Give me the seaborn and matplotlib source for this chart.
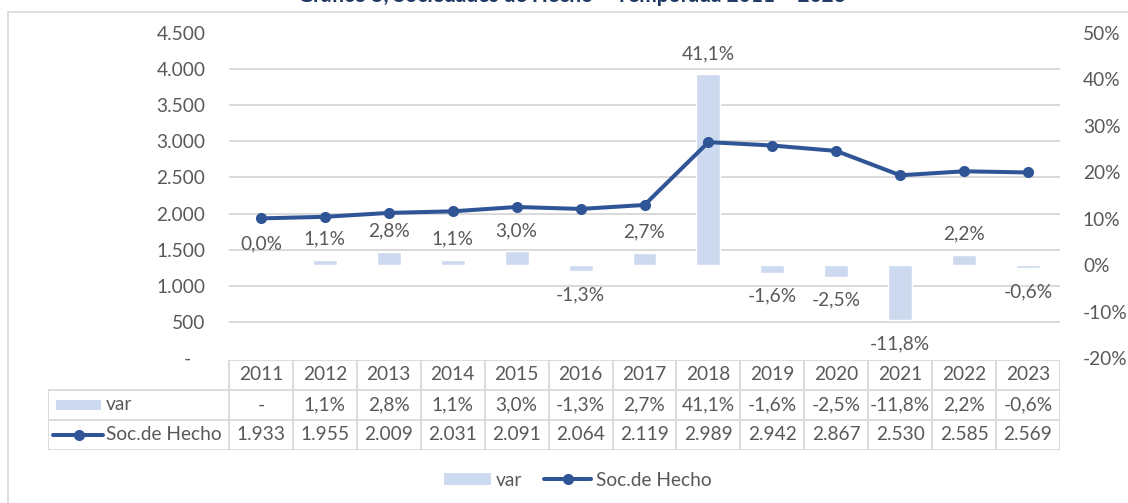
import numpy as np
import pandas as pd
import matplotlib
matplotlib.use("Agg")
import matplotlib.pyplot as plt
from matplotlib.patches import Patch, Rectangle
from matplotlib.lines import Line2D
import seaborn as sns

sns.set_style("white")
plt.rcParams['font.family'] = ['Lato', 'DejaVu Sans']

# datos
years = ['2011', '2012', '2013', '2014', '2015', '2016', '2017',
         '2018', '2019', '2020', '2021', '2022', '2023']
soc_hecho = [1933, 1955, 2009, 2031, 2091, 2064, 2119, 2989, 2942, 2867, 2530, 2585, 2569]
var_pct = [0.0, 1.1, 2.8, 1.1, 3.0, -1.3, 2.7, 41.1, -1.6, -2.5, -11.8, 2.2, -0.6]
left_ticks = [0, 500, 1000, 1500, 2000, 2500, 3000, 3500, 4000, 4500]
right_ticks = [-20, -10, 0, 10, 20, 30, 40, 50]
title = 'Gráfico 5, Sociedades de Hecho – Temporada 2011 – 2023'

BAR = '#ccd9ee'
LINE = '#2f5597'
TXT = '#595959'
GRID = '#d9d9d9'
FS = 13.8

W, H = 1128, 503


def fx(px):
    return px / W


def fy(py):
    return 1 - py / H


def pct(v):
    return f"{v:.1f}".replace('.', ',') + '%'


def miles(v):
    return f"{v:,}".replace(',', '.')


df = pd.DataFrame({'year': years, 'soc': soc_hecho, 'var': var_pct})

fig = plt.figure(figsize=(W / 100, H / 100), dpi=100)

# barras (eje derecho)
ax_bar = fig.add_axes([fx(229), fy(358), fx(1060) - fx(229), (358 - 33) / H])
ax_line = ax_bar.twinx()

sns.barplot(data=df, x='year', y='var', ax=ax_bar, color=BAR, width=0.375, saturation=1)
ax_bar.set_xlim(-0.5, 12.5)
ax_bar.set_ylim(-20, 50)
ax_bar.set_xticks([])
ax_bar.set_xlabel('')
ax_bar.set_ylabel('')
ax_bar.yaxis.tick_right()
ax_bar.set_yticks(right_ticks)
ax_bar.set_yticklabels([f"{t}%" for t in right_ticks])
ax_bar.tick_params(axis='y', which='major', length=0, pad=16.5, labelsize=FS, labelcolor=TXT)
# lineas de grilla segun el eje izquierdo
grid_pos = [-20 + 70 * v / 4500 for v in left_ticks]
ax_bar.set_yticks(grid_pos, minor=True)
ax_bar.tick_params(axis='y', which='minor', length=0, labelright=False, labelleft=False)
ax_bar.grid(False)
ax_bar.grid(which='minor', axis='y', color=GRID, lw=1.4)
ax_bar.set_axisbelow(True)
for s in ax_bar.spines.values():
    s.set_visible(False)

for i, v in enumerate(var_pct):
    off = 15 if v >= 0 else -17
    ax_bar.annotate(pct(v), xy=(i, v), xytext=(0, off), textcoords='offset points',
                    ha='center', va='center', fontsize=FS, color=TXT, annotation_clip=False)

# linea (eje izquierdo)
sns.lineplot(x=np.arange(len(years)), y=soc_hecho, ax=ax_line, color=LINE, lw=2.9,
             marker='o', markersize=8, markeredgewidth=0)
ax_line.set_xlim(-0.5, 12.5)
ax_line.set_ylim(0, 4500)
ax_line.yaxis.tick_left()
ax_line.set_yticks(left_ticks)
ax_line.set_yticklabels(['-   ' if t == 0 else miles(t) for t in left_ticks])
ax_line.tick_params(axis='y', length=0, pad=17, labelsize=FS, labelcolor=TXT)
ax_line.set_xticks([])
for s in ax_line.spines.values():
    s.set_visible(False)

# tabla de datos
col_w = (1060 - 229) / 13
x0 = -0.5 - (229 - 48) / col_w
ax_tab = fig.add_axes([fx(48), fy(450), fx(1060) - fx(48), (450 - 360) / H])
ax_tab.set_xlim(x0, 12.5)
ax_tab.set_ylim(0, 3)
ax_tab.axis('off')
lk = dict(color=GRID, lw=1.3, solid_capstyle='butt')
ax_tab.plot([-0.5, 12.5], [3, 3], **lk)
for yy in [0, 1, 2]:
    ax_tab.plot([x0, 12.5], [yy, yy], **lk)
ax_tab.plot([x0, x0], [0, 2], **lk)
for k in range(14):
    ax_tab.plot([k - 0.5, k - 0.5], [0, 3], **lk)
for i, y in enumerate(years):
    ax_tab.text(i, 2.5, y, ha='center', va='center', fontsize=FS, color=TXT)
    ax_tab.text(i, 1.5, '-' if i == 0 else pct(var_pct[i]), ha='center', va='center',
                fontsize=FS, color=TXT)
    ax_tab.text(i, 0.5, miles(soc_hecho[i]), ha='center', va='center', fontsize=FS, color=TXT)

ax_tab.add_patch(Rectangle((x0 + 8 / col_w, 1.32), 45 / col_w, 0.36, color=BAR, lw=0))
ax_tab.plot([x0 + 5 / col_w, x0 + 55 / col_w], [0.5, 0.5], color=LINE, lw=2.9)
ax_tab.plot([x0 + 31 / col_w], [0.5], 'o', color=LINE, ms=8, mew=0)
ax_tab.text(x0 + 58 / col_w, 1.5, 'var', ha='left', va='center', fontsize=FS, color=TXT)
ax_tab.text(x0 + 58 / col_w, 0.5, 'Soc.de Hecho', ha='left', va='center', fontsize=FS, color=TXT)

# leyenda inferior
handles = [Patch(facecolor=BAR, edgecolor='none'),
           Line2D([], [], color=LINE, lw=2.9, marker='o', ms=8, mew=0)]
fig.legend(handles=handles, labels=['var', 'Soc.de Hecho'], loc='center',
           bbox_to_anchor=(fx(578), fy(480)), ncol=2, frameon=False, fontsize=FS,
           labelcolor=TXT, handlelength=2.45, handleheight=0.6, handletextpad=0.26,
           columnspacing=1.15)

# marco y titulo
fig.add_artist(Rectangle((fx(8), -0.1), 1.0, fy(12) + 0.1, transform=fig.transFigure,
                         fill=False, ec=GRID, lw=1.2))
fig.text(fx(572), 1 - 2 / H, title, ha='center', va='baseline', fontsize=15,
         fontweight='bold', color='#1f3864')

fig.savefig('out.png', dpi=100)
